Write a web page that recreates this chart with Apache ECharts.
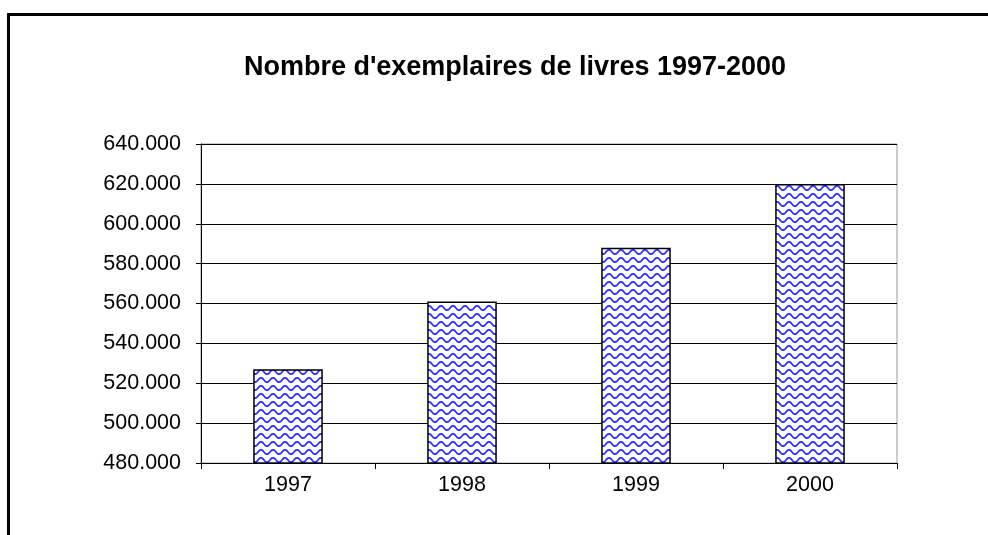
<!DOCTYPE html>
<html><head><meta charset="utf-8">
<script src="https://cdn.jsdelivr.net/npm/echarts@6/dist/echarts.min.js"></script>
<style>html,body{margin:0;padding:0;background:#fff}#c{width:988px;height:535px}</style>
</head><body><div id="c"></div>
<script>
const categories = ['1997', '1998', '1999', '2000'];
const values = [527000, 561000, 588000, 620000];
const yMin = 480000, yMax = 640000, yStep = 20000;
const titleText = "Nombre d'exemplaires de livres 1997-2000";

function wavePattern() {
  const w = 12, h = 8;
  const cv = document.createElement('canvas');
  cv.width = w; cv.height = h;
  const ctx = cv.getContext('2d');
  ctx.fillStyle = '#fff'; ctx.fillRect(0, 0, w, h);
  ctx.strokeStyle = '#3030ff'; ctx.lineWidth = 1.8;
  ctx.beginPath();
  for (let x = -1; x <= w + 1; x += 0.5) {
    const y = h / 2 + 2.2 * Math.sin(x / w * 2 * Math.PI);
    if (x === -1) ctx.moveTo(x, y); else ctx.lineTo(x, y);
  }
  ctx.stroke();
  return cv;
}
function fmt(v) { return (v / 1000).toFixed(0) + '.000'; }

const chart = echarts.init(document.getElementById('c'), null, {renderer: 'canvas'});
chart.setOption({
  animation: false,
  backgroundColor: '#fff',
  title: {text: titleText, left: 510, top: 49, textAlign: 'center',
    textStyle: {fontFamily: 'Liberation Sans, Arial', fontSize: 27, fontWeight: 'bold', color: '#000'}},
  grid: {left: 201, right: 91, top: 144, bottom: 72, show: true, borderColor: '#999', borderWidth: 1},
  graphic: [{type: 'rect', shape: {x: 8.5, y: 14.5, width: 1000, height: 600},
    style: {fill: null, stroke: '#000', lineWidth: 3}, z: 100}],
  xAxis: {type: 'category', data: categories,
    axisLine: {lineStyle: {color: '#000', width: 1}},
    axisTick: {show: true, length: 6, lineStyle: {color: '#000'}},
    axisLabel: {fontFamily: 'Liberation Sans, Arial', fontSize: 21.5, color: '#000', margin: 11}},
  yAxis: {type: 'value', min: yMin, max: yMax, interval: yStep,
    axisLine: {show: true, lineStyle: {color: '#000', width: 1}},
    axisTick: {show: true, length: 5, lineStyle: {color: '#000'}},
    splitLine: {lineStyle: {color: '#000', width: 1}},
    axisLabel: {fontFamily: 'Liberation Sans, Arial', fontSize: 21.5, color: '#000', margin: 20, formatter: fmt}},
  series: [{type: 'bar', data: values, barWidth: '40%',
    itemStyle: {color: {image: wavePattern(), repeat: 'repeat'}, borderColor: '#000', borderWidth: 1.5}}]
});
</script></body></html>
